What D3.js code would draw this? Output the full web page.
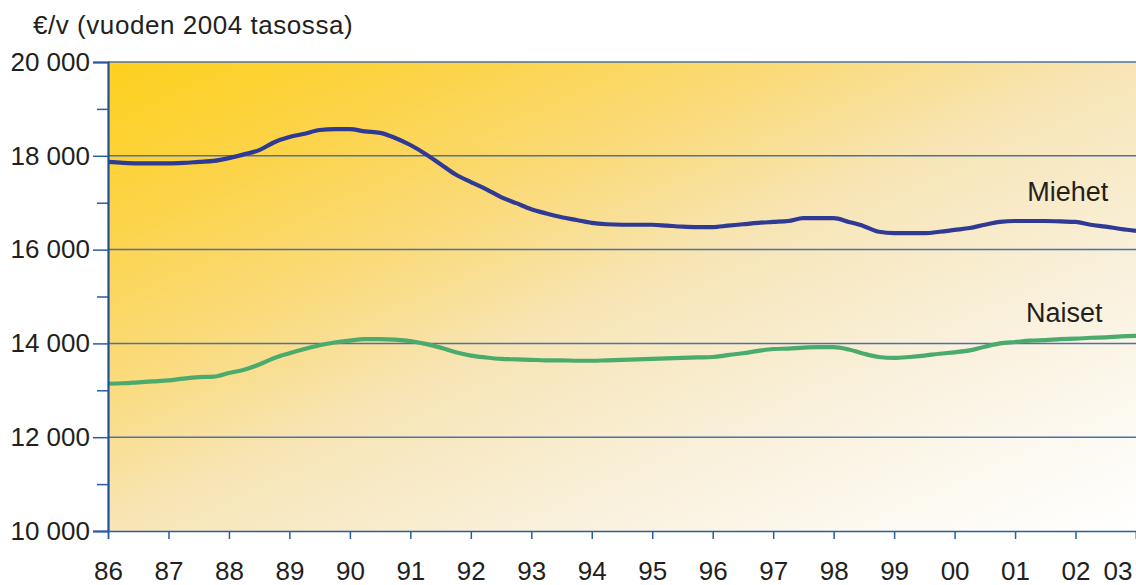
<!DOCTYPE html>
<html><head><meta charset="utf-8">
<script src="https://cdn.jsdelivr.net/npm/d3@7"></script>
<style>
html,body{margin:0;padding:0;background:#fff;}
svg{display:block;font-family:"Liberation Sans",Arial,Helvetica,sans-serif;}
</style></head>
<body>
<svg id="c" width="1136" height="585"></svg>
<script>
// quarterly periods, 1986.00 ... 2003.00
const periods = d3.range(0, 69).map(i => 1986 + i / 4);
const miehet = [
17870,17850,17840,17840, 17840,17850,17870,17890, 17950,18030,18120,18290,
18400,18470,18550,18570, 18570,18520,18490,18380, 18230,18040,17820,17600,
17440,17290,17120,16990, 16860,16770,16690,16630, 16570,16540,16530,16530,
16530,16510,16490,16480, 16480,16510,16540,16570, 16590,16610,16670,16670,
16670,16590,16500,16380, 16350,16350,16350,16380, 16420,16460,16530,16590,
16610,16610,16610,16600, 16590,16530,16490,16440, 16400];
const naiset = [
13140,13150,13170,13190, 13210,13250,13280,13290, 13370,13440,13550,13690,
13790,13880,13960,14020, 14060,14090,14090,14080, 14050,13990,13910,13810,
13740,13700,13670,13660, 13650,13640,13640,13630, 13630,13640,13650,13660,
13670,13680,13690,13700, 13710,13750,13790,13840, 13880,13890,13910,13920,
13920,13870,13780,13710, 13690,13710,13740,13780, 13810,13850,13930,14000,
14030,14060,14070,14090, 14100,14120,14130,14150, 14160];
const yearTicks = d3.range(1986, 2004);
const yearLabels = ["86","87","88","89","90","91","92","93","94","95","96","97","98","99","00","01","02","03"];
const yMajor = [10000,12000,14000,16000,18000,20000];
const yMinor = [11000,13000,15000,17000,19000];
const seriesNames = ["Miehet","Naiset"];
const unitTitle = "€/v (vuoden 2004 tasossa)";

const svg = d3.select("#c");
const L = 108, R = 1136, T = 62, B = 531;
const x = d3.scaleLinear().domain([1986, 2003]).range([L, R]);
const y = d3.scaleLinear().domain([10000, 20000]).range([B, T]);

const defs = svg.append("defs");
const g = defs.append("linearGradient").attr("id","bg")
  .attr("x1",0).attr("y1",0).attr("x2",1).attr("y2",1);
[[0,"#fdd01c"],[0.18,"#fcd44a"],[0.35,"#fadb7e"],[0.5,"#f7e5b6"],[0.7,"#f9f0da"],[0.85,"#fcf8ee"],[1,"#ffffff"]]
  .forEach(([o,c]) => g.append("stop").attr("offset",o).attr("stop-color",c));

svg.append("rect").attr("x",L).attr("y",T).attr("width",R-L).attr("height",B-T).attr("fill","url(#bg)");

// gridlines
svg.append("g").selectAll("line").data(yMajor.filter(v => v > 10000)).join("line")
  .attr("x1",L).attr("x2",R).attr("y1",d=>y(d)).attr("y2",d=>y(d))
  .attr("stroke","#4d72a6").attr("stroke-width",1.5);

// lines
const line = d3.line().x((d,i)=>x(periods[i])).y(d=>y(d)).curve(d3.curveMonotoneX);
svg.append("path").datum(miehet).attr("d",line).attr("fill","none")
  .attr("stroke","#2e3a94").attr("stroke-width",4.2).attr("stroke-linejoin","round");
svg.append("path").datum(naiset).attr("d",line).attr("fill","none")
  .attr("stroke","#4aab6c").attr("stroke-width",4.2).attr("stroke-linejoin","round");

// y axis
const fmt = d => d3.format(",")(d).replace(/,/g, " ");
const yAx = svg.append("g").attr("transform",`translate(${L},0)`)
  .call(d3.axisLeft(y).tickValues(yMajor).tickFormat(fmt).tickSize(15).tickPadding(3));
svg.append("g").attr("transform",`translate(${L},0)`)
  .call(d3.axisLeft(y).tickValues(yMinor).tickFormat("").tickSize(11))
  .call(a => a.select(".domain").remove());
// x axis
const xAx = svg.append("g").attr("transform",`translate(0,${B})`)
  .call(d3.axisBottom(x).tickValues(yearTicks).tickFormat((d,i)=>yearLabels[i]).tickSize(8).tickPadding(23));

svg.selectAll(".tick line").attr("stroke","#2a5da0").attr("stroke-width",1.5);
yAx.select(".domain").attr("stroke","#1f4f98").attr("stroke-width",2.2);
xAx.select(".domain").attr("stroke","#2a5da0").attr("stroke-width",1.5);
svg.selectAll(".tick text").attr("fill","#231f20").style("font-size","26px")
  .style("font-family",'"Liberation Sans",Arial,sans-serif');
xAx.selectAll(".tick").filter(d => d === 2003).select("text")
  .attr("text-anchor","end").attr("x",-4);

// title
svg.append("text").attr("x",33).attr("y",34).attr("fill","#231f20")
  .style("font-size","26px").style("letter-spacing","0.55px").text(unitTitle);

// series labels
svg.append("text").attr("x",x(2001.2)).attr("y",y(17030)).attr("fill","#231f20")
  .style("font-size","27px").text(seriesNames[0]);
svg.append("text").attr("x",x(2001.18)).attr("y",y(14460)).attr("fill","#231f20")
  .style("font-size","27px").text(seriesNames[1]);
</script>
</body></html>
